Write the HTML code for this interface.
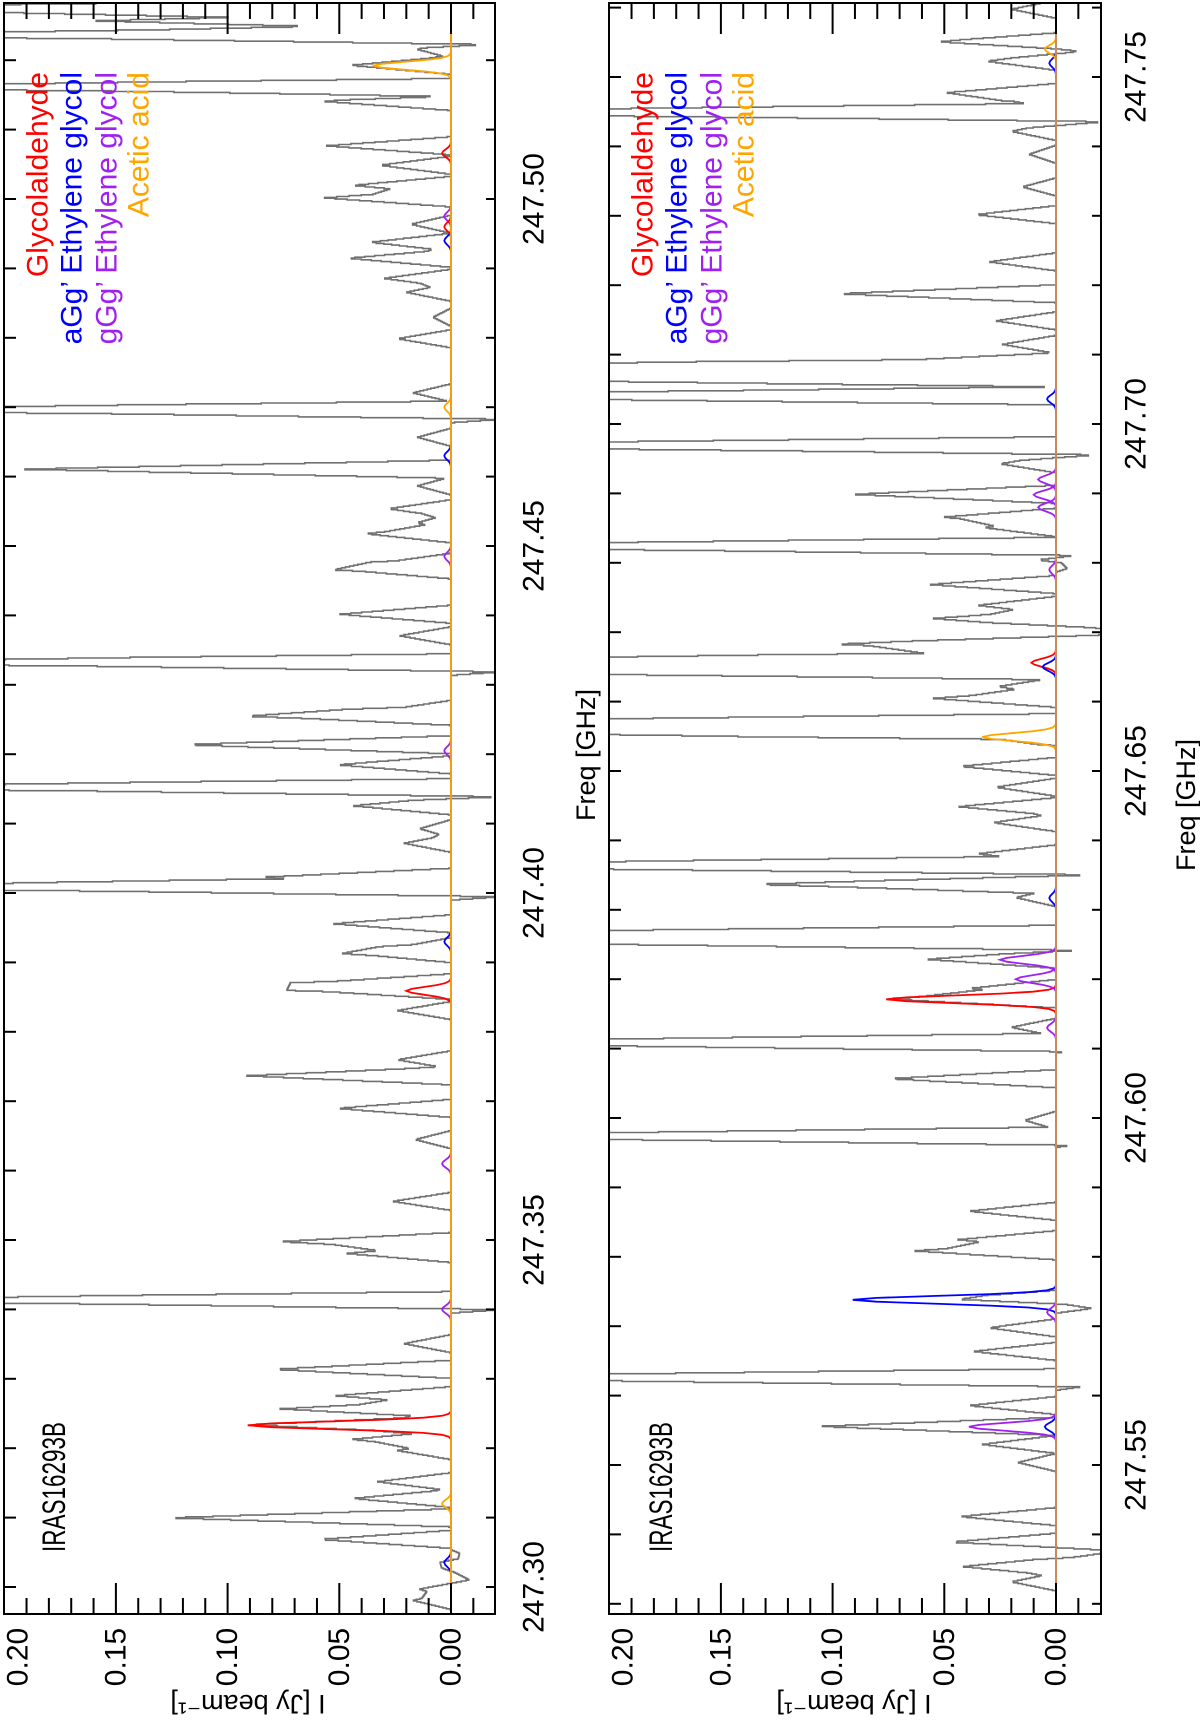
<!DOCTYPE html>
<html><head><meta charset="utf-8">
<style>
html,body{margin:0;padding:0;background:#fff;}
svg{display:block;font-family:"Liberation Sans",sans-serif;}
</style></head>
<body>
<svg id="chart" width="1200" height="1722" viewBox="0 0 1200 1722" xmlns="http://www.w3.org/2000/svg">
<defs>
<clipPath id="clip1"><rect x="4" y="3" width="491" height="1611"/></clipPath>
<clipPath id="clip2"><rect x="609" y="3" width="492" height="1611"/></clipPath>
</defs>
<g id="panel1"></g>
<g id="panel2"></g>
</svg>
<script>
// ---- data: intensity ticks ----
const intTicks = [0.20, 0.15, 0.10, 0.05, 0.00];
const intTickLabels = ["0.20", "0.15", "0.10", "0.05", "0.00"];
const p1FreqTicks = [247.30, 247.35, 247.40, 247.45, 247.50];
const p1FreqTickLabels = ["247.30", "247.35", "247.40", "247.45", "247.50"];
const p2FreqTicks = [247.55, 247.60, 247.65, 247.70, 247.75];
const p2FreqTickLabels = ["247.55", "247.60", "247.65", "247.70", "247.75"];
const speciesNames = ["Glycolaldehyde", "aGg\u2019 Ethylene glycol", "gGg\u2019 Ethylene glycol", "Acetic acid"];
const speciesColors = ["#ff0000", "#0000ff", "#a020f0", "#ffa500"];

// ---- panel 1 observed spectrum peaks (GHz, Jy/beam); 0.35 = saturated ----
const p1PeakFreq = [247.5274,247.5256,247.5235,247.5215,247.5192,247.5160,247.5140,247.5076,247.5048,247.5019,247.5001,247.4963,247.4937,247.4914,247.4885,247.4865,247.4829,247.4798,247.4720,247.4695,247.4656,247.4610,247.4586,247.4553,247.4533,247.4517,247.4476,247.4465,247.4401,247.4370,247.4331,247.4264,247.4254,247.4213,247.4184,247.4151,247.4125,247.4092,247.4071,247.4022,247.4007,247.3955,247.3922,247.3912,247.3870,247.3859,247.3830,247.3759,247.3736,247.3689,247.3644,247.3555,247.3497,247.3480,247.3412,247.3350,247.3313,247.3275,247.3256,247.3233,247.3212,247.3196,247.3151,247.3127,247.3099,247.3068,247.3035,247.2996,247.2980,
 247.5230,247.5155,247.4690,247.4326,247.4146,247.4002,247.3407,247.3040,247.3010];
const p1PeakVal = [0.35,0.160,0.35,0.015,0.045,0.35,0.057,0.056,0.032,0.044,0.057,0.018,0.036,0.046,0.030,0.020,0.008,0.024,0.017,0.35,0.015,0.193,0.015,0.028,0.015,0.038,0.029,0.048,0.050,0.023,0.35,0.027,0.086,0.120,0.051,0.35,0.044,0.014,0.021,0.085,0.35,0.053,0.022,0.044,0.062,0.064,0.024,0.024,0.092,0.051,0.016,0.026,0.077,0.047,0.35,0.021,0.080,0.052,0.077,0.091,0.045,0.024,0.033,0.044,0.127,0.059,0.011,0.014,0.017,
 -0.06,-0.06,-0.06,-0.06,-0.06,-0.06,-0.06,-0.010,-0.008];
// ---- panel 1 model lines ----
const p1ModelFreq = [247.3233,247.3859,247.5192,247.5066,247.3035,247.3930,247.4630,247.3400,247.3610,247.4205,247.4485,247.4975,247.4700,247.3120,247.4940,247.4960];
const p1ModelVal = [0.091,0.020,0.035,0.004,0.003,0.003,0.003,0.004,0.004,0.003,0.003,0.003,0.003,0.004,0.003,0.003];
const p1ModelSpecies = [0,0,3,0,1,1,1,2,2,2,2,2,3,3,1,0];

// ---- panel 2 observed spectrum peaks ----
const p2PeakFreq = [247.7597,247.7550,247.7522,247.7477,247.7465,247.7448,247.7421,247.7388,247.7341,247.7301,247.7233,247.7187,247.7148,247.7114,247.7089,247.7079,247.7066,247.7040,247.6968,247.6942,247.6898,247.6865,247.6850,247.6823,247.6804,247.6768,247.6738,247.6719,247.6682,247.6667,247.6656,247.6644,247.6621,247.6604,247.6569,247.6558,247.6549,247.6506,247.6476,247.6448,247.6425,247.6380,247.6363,247.6336,247.6317,247.6264,247.6254,247.6228,247.6186,247.6171,247.6130,247.6108,247.6056,247.5996,247.5973,247.5865,247.5824,247.5808,247.5738,247.5697,247.5663,247.5625,247.5585,247.5555,247.5529,247.5503,247.5425,247.5388,247.5353,247.5331,
 247.6354,247.6249,247.5731,247.5376,247.7540,247.7439,247.7071,247.6960,247.6816,247.6799,247.6700,247.6551,247.6106,247.5970,247.5620];
const p2PeakVal = [0.020,0.055,0.031,0.048,0.020,0.35,0.020,0.012,0.015,0.036,0.030,0.098,0.027,0.024,0.082,0.35,0.35,0.35,0.35,0.025,0.091,0.051,0.032,0.35,0.017,0.057,0.035,0.055,0.099,0.070,0.35,0.35,0.026,0.055,0.35,0.35,0.059,0.043,0.027,0.044,0.028,0.035,0.35,0.135,0.018,0.35,0.35,0.058,0.039,0.076,0.020,0.35,0.075,0.014,0.35,0.039,0.044,0.064,0.057,0.030,0.037,0.35,0.039,0.107,0.033,0.017,0.043,0.048,0.042,0.020,
 -0.017,-0.03,-0.03,-0.03,-0.012,-0.03,-0.03,-0.03,-0.03,-0.013,-0.03,-0.03,-0.03,-0.03,-0.03];
// ---- panel 2 model lines ----
const p2ModelFreq = [247.6171,247.6228,247.6200,247.5738,247.5555,247.5555,247.6656,247.6650,247.6549,247.6880,247.6898,247.6920,247.6317,247.7520,247.7036,247.7540,247.6130,247.6790,247.5720];
const p2ModelVal = [0.076,0.025,0.018,0.091,0.039,0.005,0.011,0.006,0.033,0.008,0.010,0.008,0.003,0.003,0.004,0.005,0.004,0.003,0.004];
const p2ModelSpecies = [0,2,2,1,2,1,0,1,3,2,2,2,1,1,1,3,2,2,2];

const NS = "http://www.w3.org/2000/svg";
function mk(tag, attrs, parent){
  const e = document.createElementNS(NS, tag);
  for (const k in attrs) e.setAttribute(k, attrs[k]);
  parent.appendChild(e);
  return e;
}

function drawPanel(cfg){
  const g = document.getElementById(cfg.id);
  const PXV = 2234, PXF = 6940;
  const xOf = v => cfg.xz - v * PXV;
  const yOf = f => cfg.yRef - (f - cfg.fRef) * PXF;
  const fMin = cfg.fRef - (cfg.bottom - cfg.yRef) / PXF;
  const fMax = cfg.fRef + (cfg.yRef - cfg.top) / PXF;

  const plot = mk("g", {"clip-path": "url(#" + cfg.clip + ")"}, g);
  
  

  // observed spectrum (histogram steps)
  const step = 0.000125, hw = 0.0013;
  let d = "";
  let first = true;
  for (let f = fMin - 0.001; f <= fMax + 0.001; f += step){
    let v = 0;
    for (let i = 0; i < cfg.pf.length; i++){
      const dd = Math.abs(f - cfg.pf[i]);
      if (dd < hw) v += cfg.pv[i] * (1 - dd / hw);
    }
    const x = xOf(v), y1 = yOf(f), y2 = yOf(f + step);
    d += (first ? "M" : "L") + x.toFixed(1) + "," + y1.toFixed(1) + "L" + x.toFixed(1) + "," + y2.toFixed(1);
    first = false;
  }
  const spec = mk("path", {d: d, fill: "none", stroke: "#707070", "stroke-width": 1.6, "stroke-linejoin": "miter"}, plot);
  
  

  // model lines
  for (let i = 0; i < cfg.mf.length; i++){
    const sig = 0.00055;
    let md = "";
    for (let k = -8; k <= 8; k++){
      const f = cfg.mf[i] + k * sig * 0.5;
      const v = cfg.mv[i] * Math.exp(-0.5 * Math.pow((f - cfg.mf[i]) / sig, 2));
      md += (k === -8 ? "M" : "L") + xOf(v).toFixed(1) + "," + yOf(f).toFixed(1);
    }
    const ml = mk("path", {d: md, fill: "none", stroke: speciesColors[cfg.ms[i]], "stroke-width": 1.8}, plot);
    
    
  }

  // zero line
  const zl = mk("line", {x1: xOf(0), x2: xOf(0), y1: cfg.top, y2: cfg.bottom, stroke: cfg.zeroColor, "stroke-width": 2}, g);
  
  

  // frame
  const fr = mk("rect", {x: cfg.left, y: cfg.top, width: cfg.right - cfg.left, height: cfg.bottom - cfg.top, fill: "none", stroke: "#000", "stroke-width": 2}, g);
  
  

  // intensity ticks (top & bottom)
  for (let k = -2; k <= 20; k++){
    const v = k * 0.01;
    const x = xOf(v);
    if (x < cfg.left + 1 || x > cfg.right - 1) continue;
    const len = (k % 5 === 0) ? 31 : 16;
    const t1 = mk("line", {x1: x, x2: x, y1: cfg.bottom, y2: cfg.bottom - len, stroke: "#000", "stroke-width": 2}, g);
    
    
    const t2 = mk("line", {x1: x, x2: x, y1: cfg.top, y2: cfg.top + len, stroke: "#000", "stroke-width": 2}, g);
    
    
  }
  intTicks.forEach((v, i) => {
    const x = Math.max(xOf(v), cfg.left + 14);
    const t = mk("text", {x: 0, y: 0, transform: "translate(" + x + "," + 1657 + ") rotate(-90)", "text-anchor": "middle", "dominant-baseline": "central", "font-size": 30, fill: "#000"}, g);
    t.textContent = intTickLabels[i];
    
    
  });

  // frequency ticks (left & right)
  for (let k = 0; k < 40; k++){
    const f = Math.ceil(fMin * 100) / 100 + k * 0.01;
    if (f > fMax) break;
    const y = yOf(f);
    const a = mk("line", {x1: cfg.left, x2: cfg.left + 12, y1: y, y2: y, stroke: "#000", "stroke-width": 2}, g);
    
    
    const b = mk("line", {x1: cfg.right, x2: cfg.right - 9, y1: y, y2: y, stroke: "#000", "stroke-width": 2}, g);
    
    
  }
  cfg.ft.forEach((f, i) => {
    const y = yOf(f);
    const t = mk("text", {x: 0, y: 0, transform: "translate(" + cfg.labelX + "," + y + ") rotate(-90)", "text-anchor": "middle", "dominant-baseline": "central", "font-size": 30, fill: "#000"}, g);
    t.textContent = cfg.fl[i];
    
    
  });

  // axis titles
  const xt = mk("text", {x: 0, y: 0, transform: "translate(" + cfg.freqTitleX + "," + cfg.freqTitleY + ") rotate(-90)", "text-anchor": "middle", "dominant-baseline": "central", "font-size": 27, fill: "#000"}, g);
  xt.textContent = "Freq [GHz]";
  
  
  const yt = mk("text", {x: 0, y: 0, transform: "translate(" + cfg.intTitleX + ",1704) rotate(180)", "text-anchor": "middle", "dominant-baseline": "central", "font-size": 27, fill: "#000"}, g);
  yt.textContent = "I [Jy beam\u207B\u00B9]";
  
  

  // source label
  const src = mk("text", {x: 0, y: 0, transform: "translate(" + cfg.srcX + ",1552) rotate(-90)", "text-anchor": "start", "dominant-baseline": "central", "font-size": 32, textLength: 130, lengthAdjust: "spacingAndGlyphs", fill: "#000"}, g);
  src.textContent = "IRAS16293B";
  
  

  // legend
  speciesNames.forEach((n, i) => {
    const t = mk("text", {x: 0, y: 0, transform: "translate(" + cfg.legX[i] + ",72) rotate(-90)", "text-anchor": "end", "dominant-baseline": "central", "font-size": 30, fill: speciesColors[i]}, g);
    t.textContent = n;
    
    
  });
}

drawPanel({id: "panel1", clip: "clip1", left: 4, right: 495, top: 3, bottom: 1614, xz: 451, yRef: 1587, fRef: 247.30,
  pf: p1PeakFreq, pv: p1PeakVal, mf: p1ModelFreq, mv: p1ModelVal, ms: p1ModelSpecies,
  ft: p1FreqTicks, fl: p1FreqTickLabels, labelX: 534, zeroColor: "#f39c12",
  freqTitleX: 586, freqTitleY: 755, intTitleX: 248, srcX: 54, legX: [38, 72, 107, 139]});
drawPanel({id: "panel2", clip: "clip2", left: 609, right: 1101, top: 3, bottom: 1614, xz: 1056, yRef: 1465, fRef: 247.55,
  pf: p2PeakFreq, pv: p2PeakVal, mf: p2ModelFreq, mv: p2ModelVal, ms: p2ModelSpecies,
  ft: p2FreqTicks, fl: p2FreqTickLabels, labelX: 1136, zeroColor: "#c98a5a",
  freqTitleX: 1186, freqTitleY: 805, intTitleX: 854, srcX: 661, legX: [643, 677, 712, 744]});
</script>
</body></html>
